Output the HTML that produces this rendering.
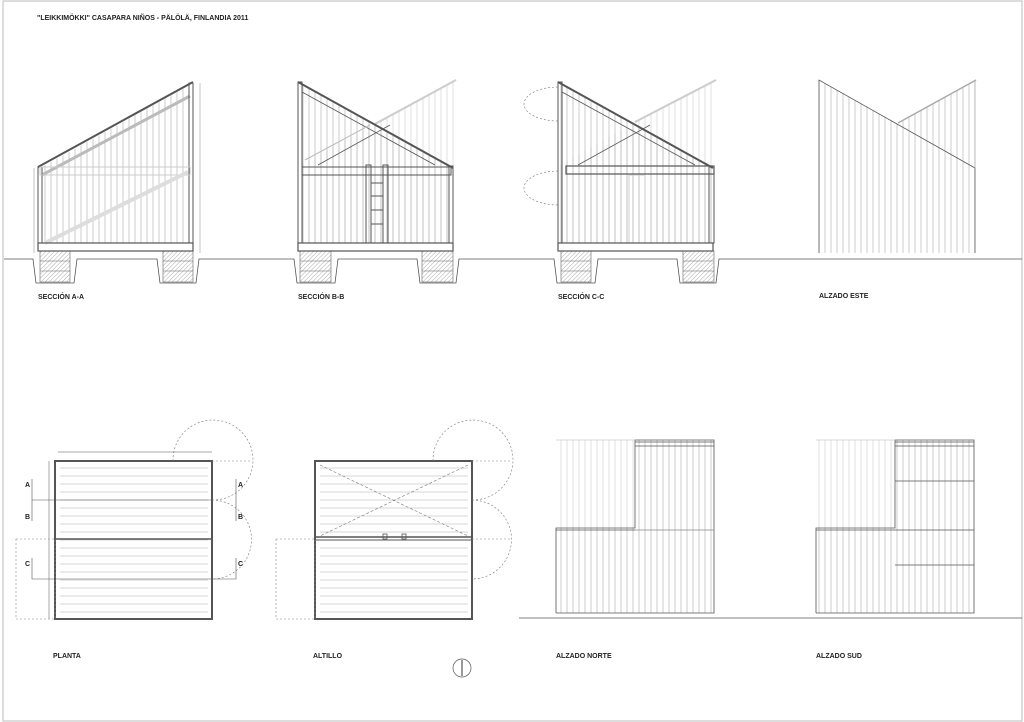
<!DOCTYPE html>
<html><head><meta charset="utf-8"><style>
html,body{margin:0;padding:0;background:#fff;}
svg{display:block}
text{font-family:"Liberation Sans",sans-serif;font-weight:bold;font-size:7px;fill:#222;}
</style></head><body>
<svg width="1024" height="722" viewBox="0 0 1024 722" xmlns="http://www.w3.org/2000/svg">
<defs>
<pattern id="vs" width="6" height="10" patternUnits="userSpaceOnUse"><line x1="3" y1="0" x2="3" y2="10" stroke="#aaa" stroke-width="0.6"/></pattern>
<pattern id="vl" width="6" height="10" patternUnits="userSpaceOnUse"><line x1="3" y1="0" x2="3" y2="10" stroke="#ccc" stroke-width="0.6"/></pattern>
<pattern id="hs" width="10" height="8" patternUnits="userSpaceOnUse"><line x1="0" y1="4" x2="10" y2="4" stroke="#bbb" stroke-width="0.6"/></pattern>
<pattern id="hat" width="3" height="3" patternUnits="userSpaceOnUse" patternTransform="rotate(45)"><line x1="0" y1="0" x2="0" y2="3" stroke="#888" stroke-width="0.7"/></pattern>
</defs>
<rect x="3" y="1" width="1019" height="720" fill="none" stroke="#bbb" stroke-width="1"/>
<text x="37" y="20">"LEIKKIMÖKKI" CASAPARA NIÑOS - PÄLÖLÄ, FINLANDIA 2011</text>

<g fill="none" stroke="#555" stroke-width="0.8">
<path d="M4 259 H33 L36 283 H74 L77 259 H157 L160 283 H196 L199 259 H294 L297 283 H335 L338 259 H417 L420 283 H456 L459 259 H554 L557 283 H595 L598 259 H677 L680 283 H716 L719 259 H1022"/>
</g>

<g fill="url(#hat)" stroke="#666" stroke-width="0.6">
<rect x="40" y="251" width="30" height="31"/><rect x="163" y="251" width="30" height="31"/>
<rect x="300" y="251" width="31" height="31"/><rect x="422" y="251" width="31" height="31"/>
<rect x="561" y="251" width="30" height="31"/><rect x="683" y="251" width="31" height="31"/>
</g>
<g stroke="#666" stroke-width="0.6">
<line x1="40" y1="261" x2="70" y2="261"/><line x1="40" y1="271" x2="70" y2="271"/>
<line x1="163" y1="261" x2="193" y2="261"/><line x1="163" y1="271" x2="193" y2="271"/>
<line x1="300" y1="261" x2="331" y2="261"/><line x1="300" y1="271" x2="331" y2="271"/>
<line x1="422" y1="261" x2="453" y2="261"/><line x1="422" y1="271" x2="453" y2="271"/>
<line x1="561" y1="261" x2="591" y2="261"/><line x1="561" y1="271" x2="591" y2="271"/>
<line x1="683" y1="261" x2="714" y2="261"/><line x1="683" y1="271" x2="714" y2="271"/>
</g>

<!-- SECCION A-A -->
<polygon points="40,168 192,84 192,243 40,243" fill="url(#vs)"/>
<g fill="none" stroke="#555" stroke-width="1">
<line x1="38" y1="167" x2="193" y2="82" stroke-width="2"/>
<line x1="42" y1="175" x2="190" y2="96" stroke="#bbb" stroke-width="3"/>
<rect x="38" y="167" width="4" height="76"/>
<rect x="189" y="83" width="4" height="160"/>
<rect x="40" y="167" width="150" height="8" stroke="#ccc"/>
<line x1="45" y1="243" x2="188" y2="172" stroke="#ddd" stroke-width="4"/>
<rect x="38" y="243" width="155" height="8" stroke-width="1.2"/>
<line x1="200" y1="83" x2="200" y2="253" stroke="#888" stroke-width="0.5"/>
<line x1="34" y1="168" x2="34" y2="253" stroke="#888" stroke-width="0.5"/>
</g>

<!-- SECCION B-B -->
<polygon points="375,124 455,80 455,243 300,243 300,165" fill="url(#vl)"/>
<polygon points="300,84 452,168 452,243 300,243" fill="url(#vs)"/>
<g fill="none" stroke="#555" stroke-width="1">
<line x1="375" y1="124" x2="456" y2="80" stroke="#ccc" stroke-width="2"/>
<line x1="298" y1="82" x2="453" y2="168" stroke-width="2"/>
<line x1="302" y1="92" x2="435" y2="165" stroke-width="0.8"/>
<line x1="318" y1="165" x2="390" y2="125" stroke-width="0.8"/>
<line x1="305" y1="160" x2="370" y2="125" stroke="#bbb"/>
<rect x="298" y="82" width="4" height="161"/>
<rect x="449" y="166" width="4" height="77"/>
<rect x="302" y="167" width="149" height="8"/>
<rect x="366" y="165" width="5" height="78"/><rect x="383" y="165" width="5" height="78"/>
<line x1="371" y1="183" x2="383" y2="183"/><line x1="371" y1="196" x2="383" y2="196"/><line x1="371" y1="210" x2="383" y2="210"/><line x1="371" y1="224" x2="383" y2="224"/>
<rect x="298" y="243" width="155" height="8" stroke-width="1.2"/>
</g>

<!-- SECCION C-C -->
<polygon points="635,122 716,80 716,243 560,243 560,165" fill="url(#vl)"/>
<polygon points="560,84 712,168 712,243 560,243" fill="url(#vs)"/>
<g fill="none" stroke="#555" stroke-width="1">
<line x1="635" y1="122" x2="716" y2="80" stroke="#ccc" stroke-width="2"/>
<line x1="558" y1="82" x2="713" y2="168" stroke-width="2"/>
<line x1="562" y1="92" x2="695" y2="165" stroke-width="0.8"/>
<line x1="578" y1="165" x2="650" y2="125" stroke-width="0.8"/>
<rect x="558" y="82" width="4" height="161"/>
<rect x="709" y="166" width="5" height="77"/>
<rect x="566" y="166" width="148" height="8" stroke-width="1.2"/>
<rect x="629" y="175" width="16" height="68" stroke="#ccc"/>
<rect x="558" y="243" width="155" height="8" stroke-width="1.2"/>
<path d="M558 87 A34 17 0 0 0 558 121" stroke="#777" stroke-dasharray="2,2" stroke-width="0.6"/>
<path d="M558 171 A34 17 0 0 0 558 205" stroke="#777" stroke-dasharray="2,2" stroke-width="0.6"/>
</g>

<!-- ALZADO ESTE -->
<polygon points="819,80 898,124 975,80 975,253 819,253" fill="url(#vs)"/>
<g fill="none" stroke="#555" stroke-width="0.8">
<polyline points="819,253 819,80 975,168 975,253"/>
<line x1="898" y1="123" x2="976" y2="80" stroke="#aaa" stroke-width="1.5"/>
<line x1="975" y1="80" x2="975" y2="168" stroke="#aaa"/>
</g>

<text x="38" y="299">SECCIÓN A-A</text>
<text x="298" y="299">SECCIÓN B-B</text>
<text x="558" y="299">SECCIÓN C-C</text>
<text x="819" y="298">ALZADO ESTE</text>

<!-- PLANTA -->
<g fill="none" stroke="#555" stroke-width="0.8">
<rect x="60" y="465" width="148" height="150" fill="url(#hs)" stroke="none"/>
<rect x="55" y="461" width="157" height="158" stroke-width="2"/>
<line x1="55" y1="539" x2="212" y2="539" stroke-width="1.5"/>
<line x1="58" y1="452" x2="212" y2="452" stroke-width="0.5"/>
<line x1="49" y1="461" x2="49" y2="619" stroke-width="0.5"/>
<rect x="16" y="539" width="39" height="80" stroke="#888" stroke-dasharray="2,2" stroke-width="0.6"/>
<line x1="32" y1="500" x2="212" y2="500" stroke-width="0.6"/>
<line x1="32" y1="479" x2="32" y2="521" stroke-width="0.6"/>
<line x1="236" y1="479" x2="236" y2="521" stroke-width="0.6"/>
<polyline points="32,558 32,579 236,579 236,558" stroke-width="0.6"/>
<path d="M173 461 A40 40 0 1 1 212 500 M212 500 A39.5 39.5 0 0 1 212 579" stroke="#777" stroke-dasharray="2,2" stroke-width="0.6"/>
<line x1="212" y1="461" x2="252" y2="461" stroke="#888" stroke-dasharray="2,2" stroke-width="0.6"/>
</g>
<text x="25" y="487">A</text><text x="25" y="519">B</text><text x="25" y="566">C</text>
<text x="238" y="487">A</text><text x="238" y="519">B</text><text x="238" y="566">C</text>

<!-- ALTILLO -->
<g fill="none" stroke="#555" stroke-width="0.8">
<rect x="320" y="465" width="148" height="150" fill="url(#hs)" stroke="none"/>
<rect x="315" y="461" width="157" height="158" stroke-width="2"/>
<line x1="315" y1="537" x2="472" y2="537" stroke-width="1.5"/>
<line x1="315" y1="540" x2="472" y2="540" stroke-width="1"/>
<path d="M320 465 L468 536 M468 465 L320 536" stroke="#777" stroke-dasharray="3,2" stroke-width="0.6"/>
<rect x="383" y="534" width="4" height="5"/><rect x="402" y="534" width="4" height="5"/>
<rect x="276" y="539" width="39" height="80" stroke="#888" stroke-dasharray="2,2" stroke-width="0.6"/>
<path d="M433 461 A40 40 0 1 1 472 500 M472 500 A39.5 39.5 0 0 1 472 579" stroke="#777" stroke-dasharray="2,2" stroke-width="0.6"/>
<line x1="472" y1="461" x2="512" y2="461" stroke="#888" stroke-dasharray="2,2" stroke-width="0.6"/>
<line x1="472" y1="539" x2="512" y2="539" stroke="#888" stroke-dasharray="2,2" stroke-width="0.6"/>
<circle cx="462" cy="668" r="9" stroke-width="0.7"/>
<line x1="462" y1="660" x2="462" y2="676" stroke-width="1.2"/>
</g>
<text x="53" y="658">PLANTA</text>
<text x="313" y="658">ALTILLO</text>

<!-- ALZADO NORTE -->
<line x1="519" y1="618" x2="1022" y2="618" stroke="#555" stroke-width="0.8"/>
<rect x="556" y="440" width="79" height="88" fill="url(#vl)"/>
<rect x="556" y="528" width="158" height="85" fill="url(#vs)"/>
<rect x="635" y="440" width="79" height="88" fill="url(#vs)"/>
<g fill="none" stroke="#555" stroke-width="0.8">
<polyline points="556,613 556,528 635,528 635,440 714,440 714,613 556,613"/>
<line x1="556" y1="530" x2="635" y2="530"/>
<line x1="635" y1="442" x2="714" y2="442"/><line x1="635" y1="446" x2="714" y2="446"/>
<line x1="635" y1="530" x2="714" y2="530" stroke="#888"/>
<line x1="556" y1="440" x2="635" y2="440" stroke="#ccc"/>
</g>
<!-- ALZADO SUD -->
<rect x="816" y="440" width="79" height="88" fill="url(#vl)"/>
<rect x="816" y="528" width="158" height="85" fill="url(#vs)"/>
<rect x="895" y="440" width="79" height="88" fill="url(#vs)"/>
<g fill="none" stroke="#555" stroke-width="0.8">
<polyline points="816,613 816,528 895,528 895,440 974,440 974,613 816,613"/>
<line x1="816" y1="530" x2="895" y2="530"/>
<line x1="895" y1="442" x2="974" y2="442"/><line x1="895" y1="446" x2="974" y2="446"/>
<line x1="895" y1="481" x2="974" y2="481"/><line x1="895" y1="530" x2="974" y2="530"/><line x1="895" y1="565" x2="974" y2="565"/>
<line x1="816" y1="440" x2="895" y2="440" stroke="#ccc"/>
</g>
<text x="556" y="658">ALZADO NORTE</text>
<text x="816" y="658">ALZADO SUD</text>
</svg>
</body></html>
